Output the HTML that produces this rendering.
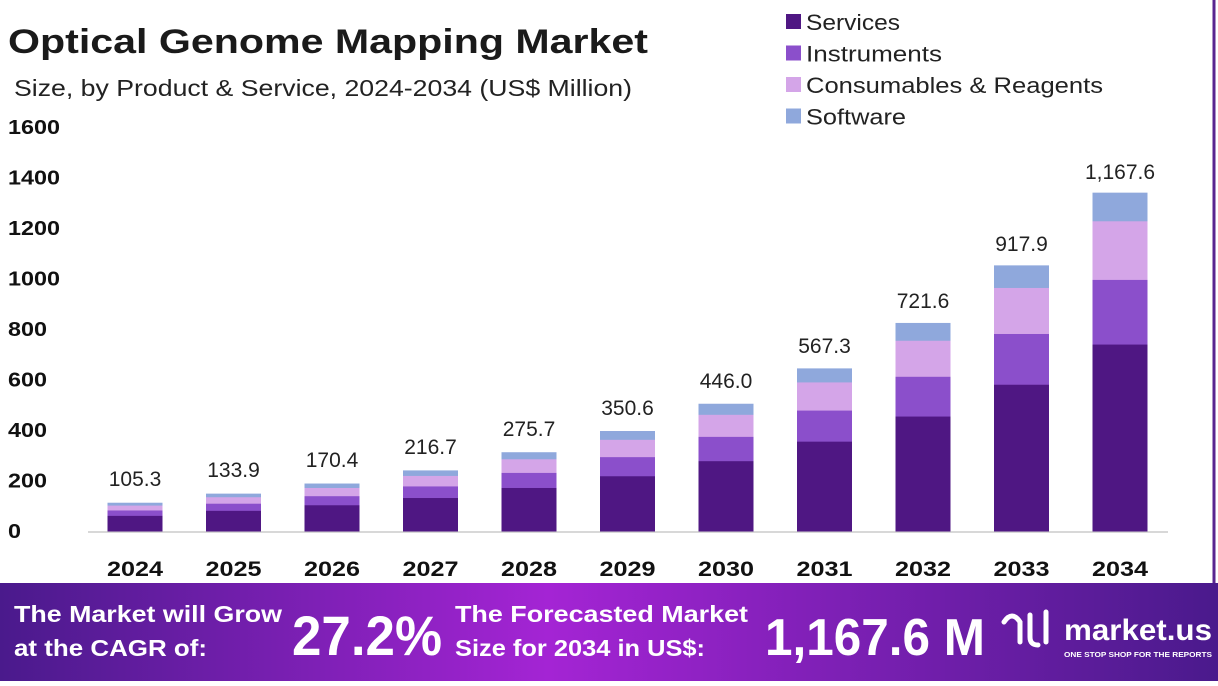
<!DOCTYPE html>
<html><head><meta charset="utf-8"><style>
body{margin:0;width:1218px;height:681px;overflow:hidden;background:#fff;font-family:"Liberation Sans",sans-serif;}
</style></head><body>
<svg id="s" width="1218" height="681" xmlns="http://www.w3.org/2000/svg"></svg>
<script>
var s=document.getElementById('s'),h='';
function T(x,y,sz,w,txt,len,fill,anchor){return '<text x="'+x+'" y="'+y+'" font-size="'+sz+'"'+(w?' font-weight="bold"':'')+' fill="'+(fill||'#222')+'"'+(anchor?' text-anchor="'+anchor+'"':'')+(len?' textLength="'+len+'" lengthAdjust="spacingAndGlyphs"':'')+'>'+txt+'</text>';}
h+='<rect x="0" y="0" width="1218" height="681" fill="#fff"/>';
h+='<line x1="1214" y1="0" x2="1214" y2="590" stroke="#5a2590" stroke-width="3"/>';
h+=T(8,53,34,1,'Optical Genome Mapping Market',640,'#1a1a1a');
h+=T(14,96,23,0,'Size, by Product &amp; Service, 2024-2034 (US$ Million)',618);
var leg=[["Services","#4f1783",94],["Instruments","#8b4fcb",136],["Consumables &amp; Reagents","#d4a5e8",297],["Software","#8fa8dc",100]];
leg.forEach(function(l,i){var y=22+i*31.5;h+='<rect x="786" y="'+(y-8)+'" width="15" height="15" fill="'+l[1]+'"/>'+T(806,y+8,22,0,l[0],l[2]);});
for(var i=0;i<=8;i++){var y=531-i*50.5,v=i*200,L=v>=1000?52:(v>0?39:13);h+=T(8,y+7,20,1,v,L,'#111');}
h+='<line x1="88" y1="532" x2="1168" y2="532" stroke="#ccc" stroke-width="1.5"/>';
var tot=[28,37,47,60,78,99,126,161,206,263,335],lab=["105.3","133.9","170.4","216.7","275.7","350.6","446.0","567.3","721.6","917.9","1,167.6"];
var fr=[0.558,0.193,0.175,0.084],cols=["#4f1783","#8b4fcb","#d4a5e8","#8fa8dc"];
for(var k=0;k<11;k++){var cx=135+k*98.5,x=cx-27.5,y=531;
 for(var j=0;j<4;j++){var hh=tot[k]*fr[j];y-=hh;h+='<rect x="'+x+'" y="'+y+'" width="55" height="'+(hh+0.5)+'" fill="'+cols[j]+'"/>';}
 h+=T(cx,531-tot[k]-17,21,0,lab[k],null,'#222','middle');
 h+=T(cx-28,576,21,1,2024+k,56,'#111');}
h+='<defs><linearGradient id="g" x1="0" x2="1"><stop offset="0" stop-color="#4a1a8c"/><stop offset="0.45" stop-color="#a424d4"/><stop offset="1" stop-color="#4a1a8c"/></linearGradient></defs>';
h+='<rect x="0" y="583" width="1218" height="98" fill="url(#g)"/>';
h+=T(14,622,23,1,'The Market will Grow',268,'#fff')+T(14,656,23,1,'at the CAGR of:',193,'#fff');
h+=T(292,655,56,1,'27.2%',150,'#fff');
h+=T(455,622,23,1,'The Forecasted Market',293,'#fff')+T(455,656,23,1,'Size for 2034 in US$:',250,'#fff');
h+=T(765,655,52,1,'1,167.6 M',220,'#fff');
h+='<g fill="none" stroke="#fff" stroke-width="5" stroke-linecap="round"><path d="M1004 622 q8 -12 16 0 v20"/><path d="M1030 615 v22 q0 8 8 8"/><path d="M1046 612 v30"/></g>';
h+=T(1064,640,30,1,'market.us',148,'#fff');
h+=T(1064,657,7,1,'ONE STOP SHOP FOR THE REPORTS',148,'#fff');
s.innerHTML=h;
</script>
</body></html>
